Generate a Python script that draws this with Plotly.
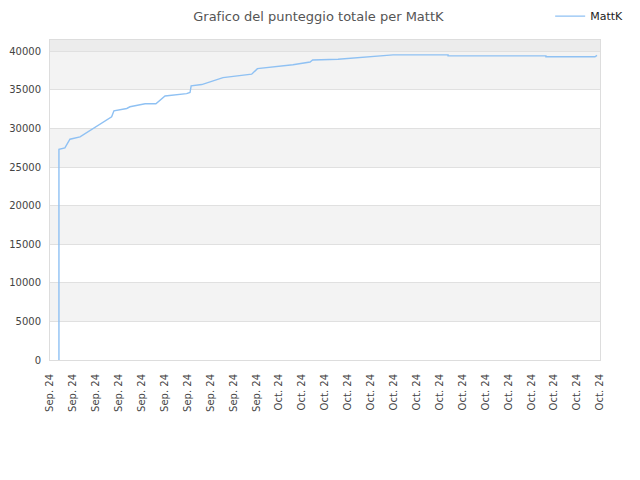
import plotly.graph_objects as go

tick_labels = ["Sep. 24"] * 10 + ["Oct. 24"] * 15
x_pos = [0.39, 0.39, 0.65, 0.87, 1.31, 2.69, 2.79, 3.35, 3.49, 4.15, 4.62, 5.02,
         5.96, 6.11, 6.16, 6.62, 7.55, 8.29, 8.80, 9.05, 9.89, 10.6, 11.35, 11.46,
         12.57, 13.53, 13.88, 14.4, 14.97, 17.37, 17.37, 21.64, 21.64, 23.78, 23.87]
scores = [0, 27300, 27480, 28600, 28900, 31500, 32270, 32580, 32800, 33200, 33200, 34200,
          34500, 34650, 35500, 35680, 36570, 36800, 37020, 37740, 38000, 38250, 38600, 38860,
          38950, 39150, 39300, 39400, 39520, 39520, 39400, 39400, 39280, 39280, 39450]
y_ticks = [0, 5000, 10000, 15000, 20000, 25000, 30000, 35000, 40000]
y_max = 41450
bands = [(5000, 10000), (15000, 20000), (25000, 30000), (35000, 40000)]

fig = go.Figure()
fig.add_trace(go.Scatter(x=x_pos, y=scores, mode="lines", name="MattK",
                         line=dict(color="#8fc1f3", width=1.4)))

shapes = []
for lo, hi in bands:
    shapes.append(dict(type="rect", xref="paper", yref="y", x0=0, x1=1, y0=lo, y1=hi,
                       fillcolor="#f3f3f3", line=dict(width=0), layer="below"))
shapes.append(dict(type="rect", xref="paper", yref="y", x0=0, x1=1, y0=40000, y1=y_max,
                   fillcolor="#ececec", line=dict(width=0), layer="below"))

fig.update_layout(
    width=640, height=480,
    margin=dict(l=42, r=48, t=32, b=128),
    paper_bgcolor="white", plot_bgcolor="white",
    font=dict(family="DejaVu Sans", size=10, color="#444"),
    title=dict(text="Graf\u200cico del punteggio totale per MattK", x=0.485, xanchor="center",
               xref="container", yref="container",
               y=0.983, yanchor="middle", font=dict(size=13, color="#555")),
    showlegend=True,
    legend=dict(orientation="h", x=0.969, xanchor="right", y=0.983, yanchor="middle",
                xref="container", yref="container",
                font=dict(size=11, color="#222"), bgcolor="rgba(0,0,0,0)"),
    shapes=shapes,
)
fig.update_xaxes(range=[0, 24], tickmode="array", tickvals=list(range(25)), ticktext=tick_labels,
                 tickangle=-90, showgrid=False, zeroline=False, showline=True, mirror=True,
                 linecolor="#dddddd", linewidth=1, ticks="", automargin=False,
                 ticklabelstandoff=9, tickfont=dict(size=10, color="#444"))
fig.update_yaxes(range=[0, y_max], tickmode="array", tickvals=y_ticks, tickformat="d",
                 showgrid=True, gridcolor="#e0e0e0", gridwidth=1, zeroline=False,
                 showline=True, mirror=True, linecolor="#dddddd", linewidth=1, ticks="",
                 automargin=False, ticklabelstandoff=6, tickfont=dict(size=10, color="#444"))

fig.write_html("out.html")
